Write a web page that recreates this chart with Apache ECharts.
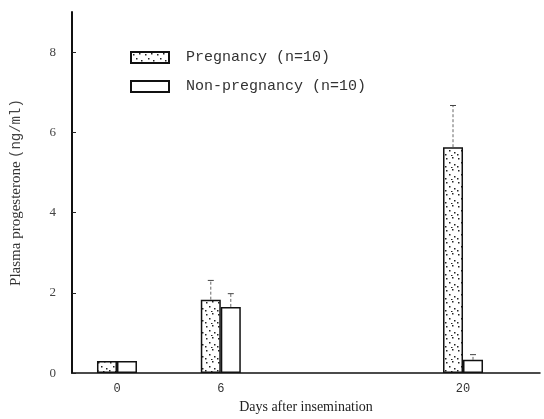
<!DOCTYPE html>
<html>
<head>
<meta charset="utf-8">
<script src="https://cdn.jsdelivr.net/npm/echarts@6/dist/echarts.min.js"></script>
<style>
  html, body { margin: 0; padding: 0; background: #fff; }
  #chart { width: 544px; height: 419px; }
</style>
</head>
<body>
<div id="chart"></div>
<script>
// days after insemination
const days = [0, 6, 20]
const dayLabels = [0, 6, 20]
// plasma progesterone (ng/ml)
const pregnancy = [0.3, 1.83, 5.63]
const pregnancySE = [0, 0.48, 1.04]
const nonPregnancy = [0.3, 1.65, 0.33]
const nonPregnancySE = [0, 0.33, 0.13]
const yTicks = [0, 2, 4, 6, 8]

const seriesNames = ['Pregnancy (n=10)', 'Non-pregnancy (n=10)']

// dotted fill like the printed figure
function dotPattern() {
    const c = document.createElement('canvas')
    c.width = 12
    c.height = 12
    const ctx = c.getContext('2d')
    ctx.fillStyle = '#fff'
    ctx.fillRect(0, 0, 12, 12)
    ctx.fillStyle = '#222'
    const dots = [[2, 2], [8, 1], [5, 6], [10, 8], [1, 10], [7, 11]]
    dots.forEach(d => ctx.fillRect(d[0], d[1], 1.5, 1.5))
    return c
}

const barW = 20
const monoFont = '"Liberation Mono", "DejaVu Sans Mono", monospace'
const serifFont = '"Liberation Serif", "DejaVu Serif", serif'

function errorSeries(name, vals, se, offset) {
    return {
        type: 'custom',
        name: name + ' SE',
        silent: true,
        z: 5,
        data: days.map((d, i) => [d, vals[i], vals[i] + se[i]]),
        renderItem: function (params, api) {
            if (api.value(2) <= api.value(1)) return null
            const top = api.coord([api.value(0), api.value(2)])
            const base = api.coord([api.value(0), api.value(1)])
            const x = top[0] + offset
            return {
                type: 'group',
                children: [
                    { type: 'line', shape: { x1: x, y1: base[1], x2: x, y2: top[1] },
                      style: { stroke: '#666', lineWidth: 1, lineDash: [3, 2] } },
                    { type: 'line', shape: { x1: x - 3, y1: top[1], x2: x + 3, y2: top[1] },
                      style: { stroke: '#444', lineWidth: 1 } }
                ]
            }
        }
    }
}

const chart = echarts.init(document.getElementById('chart'), null, { renderer: 'canvas' })

const options = {
    backgroundColor: '#fff',
    animation: false,
    grid: { left: 72, right: 4, top: 12, bottom: 43 },
    legend: {
        data: seriesNames,
        orient: 'vertical',
        left: 125,
        top: 45,
        itemWidth: 38,
        itemHeight: 11,
        itemGap: 14,
        icon: 'rect',
        textStyle: { fontFamily: monoFont, fontSize: 15, color: '#333', padding: [0, 0, 0, 12] }
    },
    xAxis: {
        type: 'value',
        min: -2.6,
        max: 24.45,
        name: 'Days after insemination',
        nameLocation: 'middle',
        nameGap: 24,
        nameTextStyle: { fontFamily: serifFont, fontSize: 14, color: '#222' },
        splitLine: { show: false },
        axisLine: { lineStyle: { color: '#111', width: 1.5 } },
        axisTick: { show: false },
        axisLabel: {
            customValues: dayLabels,
            margin: 10,
            fontFamily: monoFont,
            fontSize: 12,
            color: '#333'
        }
    },
    yAxis: {
        type: 'value',
        min: 0,
        max: 9,
        name: '{a|Plasma progesterone} {b|(ng/ml)}',
        nameLocation: 'middle',
        nameRotate: 90,
        nameGap: 48,
        nameTextStyle: {
            rich: {
                a: { fontFamily: serifFont, fontSize: 15, color: '#333' },
                b: { fontFamily: monoFont, fontSize: 14, color: '#444' }
            }
        },
        splitLine: { show: false },
        axisLine: { show: true, onZero: false, lineStyle: { color: '#111', width: 2 } },
        axisTick: { show: true, inside: true, length: 4, customValues: yTicks, lineStyle: { color: '#222' } },
        axisLabel: {
            customValues: yTicks,
            margin: 16,
            fontFamily: serifFont,
            fontSize: 13,
            color: '#444'
        }
    },
    series: [
        {
            name: seriesNames[0],
            type: 'bar',
            barWidth: barW,
            barGap: '0%',
            data: days.map((d, i) => [d, pregnancy[i]]),
            itemStyle: {
                color: { image: dotPattern(), repeat: 'repeat' },
                borderColor: '#111',
                borderWidth: 1.5
            }
        },
        {
            name: seriesNames[1],
            type: 'bar',
            barWidth: barW,
            barGap: '0%',
            data: days.map((d, i) => [d, nonPregnancy[i]]),
            itemStyle: {
                color: '#fff',
                borderColor: '#111',
                borderWidth: 1.5
            }
        },
        errorSeries(seriesNames[0], pregnancy, pregnancySE, -barW / 2),
        errorSeries(seriesNames[1], nonPregnancy, nonPregnancySE, barW / 2)
    ]
}

chart.setOption(options)
</script>
</body>
</html>
